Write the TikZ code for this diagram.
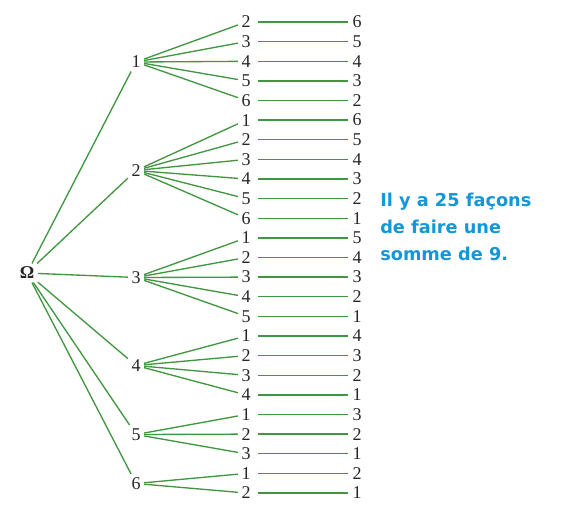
\documentclass[tikz,border=0pt]{standalone}
\usepackage{fontspec}
\setmainfont{Liberation Serif}
\usetikzlibrary{positioning}
\newfontfamily\notefont{DejaVu Sans}
\definecolor{cEdge}{RGB}{65,150,65}
\definecolor{cNote}{RGB}{20,150,215}

\begin{document}
\begin{tikzpicture}[x=0.75pt, y=-0.75pt, font=\fontsize{13.5}{15}\selectfont]

%% -- shared styles ------------------------------------------------------------
\tikzset{
  num/.style={inner sep=2.5pt, text=black!85},
  edge/.style={cEdge, line width=1pt},
  pair/.style={cEdge, line width=1pt, shorten <=3pt, shorten >=1pt},
}

\useasboundingbox (0,0) rectangle (570,522);

%% -- column x-centres ---------------------------------------------------------
\def\cA{27}
\def\cB{136}
\def\cC{246}
\def\cD{357}

%% -- root ---------------------------------------------------------------------
\node[num] (O) at (\cA,273) {\textbf{Ω}};

%% -- first die ----------------------------------------------------------------
\node[num] (L1) at (\cB, 62.0) {1};
\node[num] (L2) at (\cB,170.5) {2};
\node[num] (L3) at (\cB,277.5) {3};
\node[num] (L4) at (\cB,365.5) {4};
\node[num] (L5) at (\cB,434.5) {5};
\node[num] (L6) at (\cB,483.5) {6};

\foreach \k in {1,...,6} \draw[edge] (O)--(L\k);

%% -- second and third die (rows 1..25) -----------------------------------------
\node[num] (S1)  at (\cC, 22.0) {2};  \node[num] (T1)  at (\cD, 22.0) {6};
\node[num] (S2)  at (\cC, 41.6) {3};  \node[num] (T2)  at (\cD, 41.6) {5};
\node[num] (S3)  at (\cC, 61.3) {4};  \node[num] (T3)  at (\cD, 61.3) {4};
\node[num] (S4)  at (\cC, 80.9) {5};  \node[num] (T4)  at (\cD, 80.9) {3};
\node[num] (S5)  at (\cC,100.5) {6};  \node[num] (T5)  at (\cD,100.5) {2};

\node[num] (S6)  at (\cC,120.1) {1};  \node[num] (T6)  at (\cD,120.1) {6};
\node[num] (S7)  at (\cC,139.8) {2};  \node[num] (T7)  at (\cD,139.8) {5};
\node[num] (S8)  at (\cC,159.4) {3};  \node[num] (T8)  at (\cD,159.4) {4};
\node[num] (S9)  at (\cC,179.0) {4};  \node[num] (T9)  at (\cD,179.0) {3};
\node[num] (S10) at (\cC,198.6) {5};  \node[num] (T10) at (\cD,198.6) {2};
\node[num] (S11) at (\cC,218.3) {6};  \node[num] (T11) at (\cD,218.3) {1};

\node[num] (S12) at (\cC,237.9) {1};  \node[num] (T12) at (\cD,237.9) {5};
\node[num] (S13) at (\cC,257.5) {2};  \node[num] (T13) at (\cD,257.5) {4};
\node[num] (S14) at (\cC,277.1) {3};  \node[num] (T14) at (\cD,277.1) {3};
\node[num] (S15) at (\cC,296.8) {4};  \node[num] (T15) at (\cD,296.8) {2};
\node[num] (S16) at (\cC,316.4) {5};  \node[num] (T16) at (\cD,316.4) {1};

\node[num] (S17) at (\cC,336.0) {1};  \node[num] (T17) at (\cD,336.0) {4};
\node[num] (S18) at (\cC,355.6) {2};  \node[num] (T18) at (\cD,355.6) {3};
\node[num] (S19) at (\cC,375.3) {3};  \node[num] (T19) at (\cD,375.3) {2};
\node[num] (S20) at (\cC,394.9) {4};  \node[num] (T20) at (\cD,394.9) {1};

\node[num] (S21) at (\cC,414.5) {1};  \node[num] (T21) at (\cD,414.5) {3};
\node[num] (S22) at (\cC,434.1) {2};  \node[num] (T22) at (\cD,434.1) {2};
\node[num] (S23) at (\cC,453.8) {3};  \node[num] (T23) at (\cD,453.8) {1};

\node[num] (S24) at (\cC,473.4) {1};  \node[num] (T24) at (\cD,473.4) {2};
\node[num] (S25) at (\cC,493.0) {2};  \node[num] (T25) at (\cD,493.0) {1};

% branches from the first die
\foreach \k in {1,...,5}   \draw[edge] (L1)--(S\k);
\foreach \k in {6,...,11}  \draw[edge] (L2)--(S\k);
\foreach \k in {12,...,16} \draw[edge] (L3)--(S\k);
\foreach \k in {17,...,20} \draw[edge] (L4)--(S\k);
\foreach \k in {21,...,23} \draw[edge] (L5)--(S\k);
\foreach \k in {24,25}     \draw[edge] (L6)--(S\k);

% third die
\foreach \k in {1,...,25} \draw[pair] (S\k)--(T\k);

%% -- note ---------------------------------------------------------------------
\node[anchor=north west, align=left, inner sep=0pt, text=cNote,
      font=\notefont\bfseries\fontsize{13.3}{20}\selectfont]
  (note) at (380,193) {Il y a 25 façons\\de faire une\\somme de 9.};

\end{tikzpicture}
\end{document}
